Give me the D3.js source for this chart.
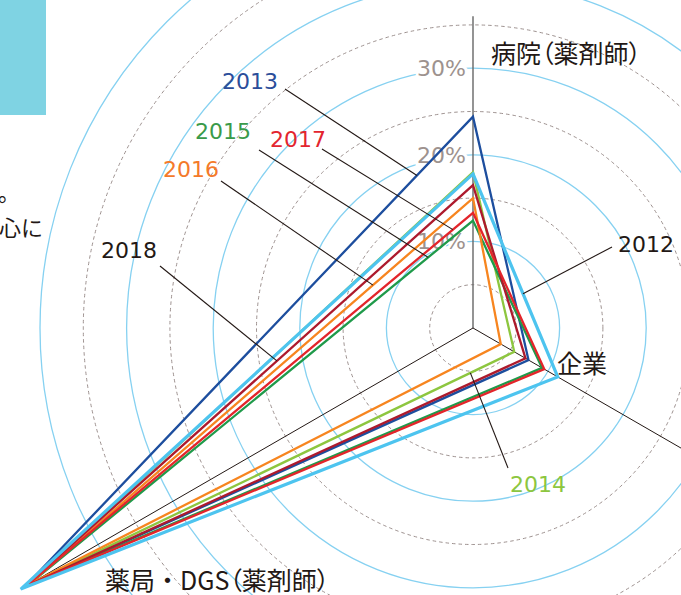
<!DOCTYPE html>
<html>
<head>
<meta charset="utf-8">
<script src="https://cdn.jsdelivr.net/npm/d3@7"></script>
<style>
  html, body { margin: 0; padding: 0; background: #fff; overflow: hidden; }
  svg { display: block; }
  .palt { font-feature-settings: "palt" 1; }
</style>
</head>
<body>
<script>
/* ---------------------------------- data ---------------------------------- */
const axes = ["病院（薬剤師）", "企業", "薬局・DGS（薬剤師）"];
const years = ["2012", "2013", "2014", "2015", "2016", "2017", "2018"];
// share per destination (%), one value per year
const hospital = [17.8, 24.4, 18.0, 12.4, 15.0, 13.3, 16.5];
const company  = [11.3, 7.4, 5.5, 9.2, 3.7, 9.5, 7.0];
const pharmacy = [60.3, 59.8, 59.5, 59.2, 59.3, 59.6, 59.7];
const tickValues = [10, 20, 30];
const ringValues = [5, 10, 15, 20, 25, 30, 35, 40, 45, 50];

/* --------------------------------- layout --------------------------------- */
const width = 681, height = 595;
const cx = 473, cy = 328;
const seriesColor = {
  "2012": "#4dc4ef", "2013": "#1d4e9e", "2014": "#8dc63f", "2015": "#1f9a4a",
  "2016": "#f7851f", "2017": "#e3252b", "2018": "#ad1a2d"
};
const labelColor = {
  "2012": "#231815", "2013": "#2b4d9a", "2014": "#8dc63f", "2015": "#3a9a4a",
  "2016": "#f47a2a", "2017": "#e3252f", "2018": "#231815"
};
// where each year label sits and which polygon edge its leader points to
const callouts = {
  "2012": { x: 618, y: 252, lx: 612, ly: 247, edge: [0, 1], t: 0.59 },
  "2013": { x: 222, y: 89,  lx: 285, ly: 89,  edge: [0, 2], t: 0.125 },
  "2014": { x: 510, y: 492, lx: 508, ly: 468, edge: [1, 2], t: 0.09 },
  "2015": { x: 195, y: 139, lx: 259, ly: 150, edge: [0, 2], t: 0.101 },
  "2016": { x: 163, y: 177, lx: 221, ly: 181, edge: [0, 2], t: 0.225 },
  "2017": { x: 270, y: 147, lx: 322, ly: 149, edge: [0, 2], t: 0.045 },
  "2018": { x: 101, y: 258, lx: 160, ly: 266, edge: [0, 2], t: 0.438 }
};
const axisLength = [36, 60, 60];
const sans = "'DejaVu Sans', 'Noto Sans', sans-serif";
const jp = "'Noto Sans CJK JP', 'Noto Sans', sans-serif";
const jpSize = 25;

const r = d3.scaleLinear().domain([0, 10]).range([0, 86.6]);
const angle = d3.scaleOrdinal().domain(axes).range(axes.map((d, i) => i * 2 * Math.PI / 3));
const pt = (a, v) => [cx + r(v) * Math.sin(a), cy - r(v) * Math.cos(a)];

const series = years.map((y, i) => ({ year: y, values: [hospital[i], company[i], pharmacy[i]] }));

const svg = d3.select("body").append("svg")
  .attr("width", width)
  .attr("height", height);

/* ---------------------------- surrounding page ---------------------------- */
svg.append("rect").attr("x", 0).attr("y", 0).attr("width", 46).attr("height", 115).attr("fill", "#7fd3e3");
svg.append("text").attr("x", 20).attr("y", 201).attr("text-anchor", "end")
  .attr("font-family", jp).attr("font-size", 22).attr("fill", "#231815").text("ます。");
svg.append("text").attr("x", 43).attr("y", 236).attr("text-anchor", "end")
  .attr("font-family", jp).attr("font-size", 22).attr("fill", "#231815").text("を中心に");

/* ---------------------------------- rings --------------------------------- */
const grid = svg.append("g");
grid.selectAll("circle")
  .data(ringValues)
  .join("circle")
  .attr("cx", cx).attr("cy", cy)
  .attr("r", d => r(d))
  .attr("fill", "none")
  .attr("stroke", d => d % 10 === 0 ? "#86d1f1" : "#9e9290")
  .attr("stroke-width", d => d % 10 === 0 ? 1.3 : 1)
  .attr("stroke-dasharray", d => d % 10 === 0 ? null : "3.5,3");

// tick labels along the top axis
svg.append("g").selectAll("text")
  .data(tickValues)
  .join("text")
  .attr("x", cx - 7)
  .attr("y", d => cy - r(d))
  .attr("dy", "0.36em")
  .attr("text-anchor", "end")
  .attr("font-family", sans)
  .attr("font-size", 22)
  .attr("fill", "#9d928e")
  .attr("stroke", "#fff")
  .attr("stroke-width", 6)
  .attr("paint-order", "stroke")
  .text(d => d + "%");

/* ---------------------------------- axes ---------------------------------- */
svg.append("g").selectAll("line")
  .data(axes)
  .join("line")
  .attr("x1", cx).attr("y1", cy)
  .attr("x2", (d, i) => pt(angle(d), axisLength[i])[0])
  .attr("y2", (d, i) => pt(angle(d), axisLength[i])[1])
  .attr("stroke", (d, i) => i === 0 ? "#666" : "#231815")
  .attr("stroke-width", (d, i) => i === 0 ? 1.4 : 1);

/* --------------------------------- series --------------------------------- */
const radial = d3.lineRadial()
  .angle((d, i) => angle(axes[i]))
  .radius(d => r(d))
  .curve(d3.curveLinearClosed);

const drawOrder = ["2013", "2014", "2015", "2016", "2018", "2017", "2012"];
svg.append("g")
  .attr("transform", `translate(${cx},${cy})`)
  .selectAll("path")
  .data(drawOrder.map(y => series.find(s => s.year === y)))
  .join("path")
  .attr("d", d => radial(d.values))
  .attr("fill", "none")
  .attr("stroke", d => seriesColor[d.year])
  .attr("stroke-width", d => d.year === "2012" ? 3.2 : 2.3)
  .attr("stroke-linejoin", "miter");

/* -------------------------------- callouts -------------------------------- */
const leaderEnd = s => {
  const c = callouts[s.year];
  const a = pt(angle(axes[c.edge[0]]), s.values[c.edge[0]]);
  const b = pt(angle(axes[c.edge[1]]), s.values[c.edge[1]]);
  return [a[0] + (b[0] - a[0]) * c.t, a[1] + (b[1] - a[1]) * c.t];
};

svg.append("g").selectAll("line")
  .data(series)
  .join("line")
  .attr("x1", d => callouts[d.year].lx)
  .attr("y1", d => callouts[d.year].ly)
  .attr("x2", d => leaderEnd(d)[0])
  .attr("y2", d => leaderEnd(d)[1])
  .attr("stroke", "#231815")
  .attr("stroke-width", 1.1);

svg.append("g").selectAll("text")
  .data(series)
  .join("text")
  .attr("x", d => callouts[d.year].x)
  .attr("y", d => callouts[d.year].y)
  .attr("font-family", sans)
  .attr("font-size", 22)
  .attr("fill", d => labelColor[d.year])
  .text(d => d.year);

/* ------------------------------- axis labels ------------------------------ */
// brackets use proportional (palt) widths so they sit tight, as in print
const axisLabelPos = [[491, 63], [557, 373], [105, 590]];
const axisLabels = svg.append("g").selectAll("text")
  .data(axes)
  .join("text")
  .attr("x", (d, i) => axisLabelPos[i][0])
  .attr("y", (d, i) => axisLabelPos[i][1])
  .attr("font-family", jp)
  .attr("font-size", jpSize)
  .attr("fill", "#231815");

axisLabels.each(function (d) {
  const t = d3.select(this);
  d.split(/([（）])/).filter(s => s.length).forEach(s => {
    t.append("tspan").attr("class", /[（）]/.test(s) ? "palt" : null).text(s);
  });
});
</script>
</body>
</html>
